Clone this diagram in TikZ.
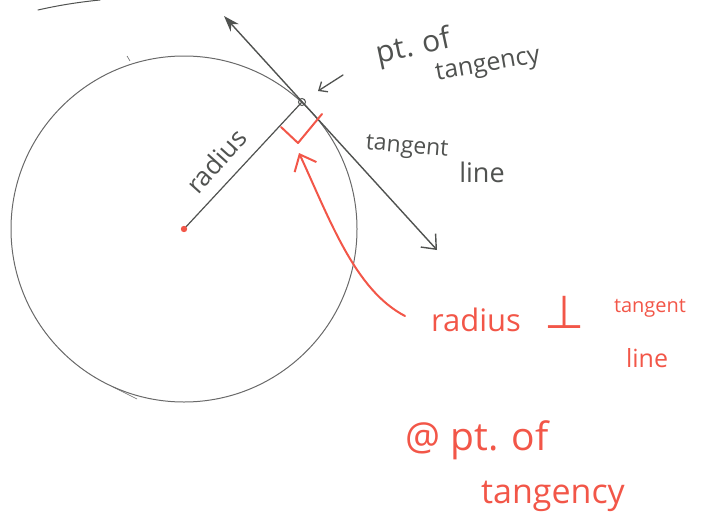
\documentclass[tikz,border=0pt]{standalone}
\usepackage{fontspec}
\setmainfont{Open Sans}
\newfontfamily\symfont{DejaVu Sans}
\usetikzlibrary{arrows.meta}
\definecolor{pencil}{RGB}{80,82,80}
\definecolor{circgray}{RGB}{105,105,105}
\definecolor{redpen}{RGB}{242,86,72}
\tikzset{
  graylbl/.style={text=pencil, inner sep=0pt},
  redlbl/.style={text=redpen, inner sep=0pt},
  pencilline/.style={draw=pencil, line width=1.4pt, line cap=round},
  redline/.style={draw=redpen, line width=2pt, line cap=round, line join=round},
}
\begin{document}
\begin{tikzpicture}[x=1pt,y=-1pt]
\useasboundingbox (0,0) rectangle (708,527);
% key points
\coordinate (O) at (184,229);
\coordinate (P) at (302,102);
\coordinate (A) at (224,16);
\coordinate (B) at (437,250);
% stray strokes
\draw[pencilline, line width=1pt] (38,10) .. controls (60,5) and (80,2) .. (100,0);
\draw[draw=circgray, line width=0.6pt] (113,387) -- (137,399);
\draw[draw=circgray, line width=0.6pt] (127,56) -- (130,61);
% circle
\draw[draw=circgray, line width=1pt] (O) circle[radius=173];
% radius
\draw[pencilline, line width=1.2pt] (O) -- (P);
\fill[redpen] (O) circle[radius=3.2];
% tangent line
\draw[pencilline, {Stealth[length=16pt,width=11pt]}-{Straight Barb[length=12pt,width=20pt]}] (A) -- (B);
\draw[pencilline, line width=1pt] (P) circle[radius=3.5];
% right angle mark
\coordinate (R1) at (281,127);
\coordinate (R2) at (298,143);
\coordinate (R3) at (322,114);
\draw[redline] (R1) -- (R2) -- (R3);
% labels (gray)
\node[graylbl, rotate=48, font=\fontsize{26}{26}\selectfont] (lrad) at (216,161) {radius};
\node[graylbl, rotate=12, font=\fontsize{30}{30}\selectfont] (lpt) at (414,48) {pt. of};
\node[graylbl, rotate=10, font=\fontsize{25}{25}\selectfont] (ltan) at (488,66) {tangency};
\node[graylbl, rotate=-5, font=\fontsize{23}{23}\selectfont] (ltl1) at (407,148) {tangent};
\node[graylbl, font=\fontsize{27}{27}\selectfont] (ltl2) at (482,172) {line};
% pointer arrow to point of tangency
\coordinate (ptail) at (343,75);
\coordinate (phead) at (318,91);
\draw[pencilline, line width=1.3pt, -{Straight Barb[length=7pt,width=12pt]}] (ptail) -- (phead);
% red labels
\node[redlbl, font=\fontsize{31}{31}\selectfont] (rrad) at (476,320) {radius};
\node[redlbl, font=\fontsize{46}{46}\selectfont\symfont] (rperp) at (565,312) {⊥};
\node[redlbl, font=\fontsize{20}{20}\selectfont] (rtan) at (650,308) {tangent};
\node[redlbl, font=\fontsize{25}{25}\selectfont] (rline) at (647,358) {line};
\node[redlbl, font=\fontsize{39}{39}\selectfont] (rat) at (477,440) {@ pt. of};
\node[redlbl, font=\fontsize{34}{34}\selectfont] (rtg) at (553,496) {tangency};
% red arrow
\coordinate (Rtip) at (299,153);
\coordinate (Rstart) at (405,316);
\draw[redline, -{Straight Barb[length=14pt,width=24pt]}] (Rstart) .. controls (355,290) and (330,220) .. (Rtip);
\end{tikzpicture}
\end{document}
